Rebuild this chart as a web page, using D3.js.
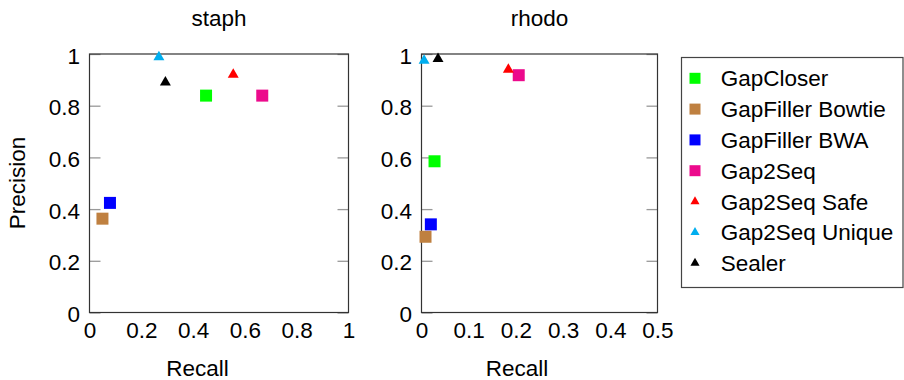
<!DOCTYPE html>
<html>
<head>
<meta charset="utf-8">
<script src="https://cdn.jsdelivr.net/npm/d3@7"></script>
<style>
  body { margin: 0; background: #fff; }
  svg text { font-family: "Liberation Sans", Arial, Helvetica, sans-serif; fill: #000; }
  .axis .domain { display: none; }
  .axis text { font-size: 22.5px; }
</style>
</head>
<body>
<div id="chart"></div>
<script>
// Methods, in legend order
var methods = ['GapCloser', 'GapFiller Bowtie', 'GapFiller BWA', 'Gap2Seq', 'Gap2Seq Safe', 'Gap2Seq Unique', 'Sealer'];
var markers = ['square', 'square', 'square', 'square', 'triangle', 'triangle', 'triangle'];
var colors = ['#00ff00', '#bf8040', '#0000ff', '#ec0a8c', '#ff0000', '#00aeef', '#000000'];

// staph: recall / precision per method
var staphRecall =    [0.45, 0.05, 0.079, 0.667, 0.555, 0.268, 0.293];
var staphPrecision = [0.839, 0.363, 0.424, 0.839, 0.92, 0.988, 0.89];

// rhodo: recall / precision per method
var rhodoRecall =    [0.0276, 0.0085, 0.0198, 0.206, 0.184, 0.0055, 0.035];
var rhodoPrecision = [0.585, 0.293, 0.341, 0.918, 0.94, 0.975, 0.981];

var yTicks = [0, 0.2, 0.4, 0.6, 0.8, 1];
var staphXTicks = [0, 0.2, 0.4, 0.6, 0.8, 1];
var rhodoXTicks = [0, 0.1, 0.2, 0.3, 0.4, 0.5];

const width = 904, height = 380;
const plotTop = 54, plotBottom = 312.5;
const fontSize = '22.5px';

var svg = d3.select('#chart').append('svg')
  .attr('width', width)
  .attr('height', height);

function symbolFor(m, big) {
  if (m == 'square') return d3.symbol().type(d3.symbolSquare).size(big ? 144 : 121)();
  return d3.symbol().type(d3.symbolTriangle).size(big ? 52 : 36)();
}

function createPlot(opts) {
  var xScale = d3.scaleLinear().domain([0, opts.xMax]).range([opts.left, opts.right]);
  var yScale = d3.scaleLinear().domain([0, 1]).range([plotBottom, plotTop]);

  var g = svg.append('g');

  // inner y ticks, left with labels
  g.append('g')
    .attr('class', 'axis')
    .attr('transform', `translate(${opts.left}, 0)`)
    .call(d3.axisLeft(yScale).tickValues(yTicks).tickSize(-11).tickPadding(9.5)
      .tickFormat(d3.format('~g')))
    .call(s => s.selectAll('line').attr('stroke', '#999').attr('stroke-width', 1.3))
    .call(s => s.selectAll('text').attr('dy', '0.4em'));

  // inner y ticks on the right side
  g.append('g')
    .attr('class', 'axis')
    .attr('transform', `translate(${opts.right}, 0)`)
    .call(d3.axisRight(yScale).tickValues(yTicks).tickSize(-11).tickFormat(''))
    .call(s => s.selectAll('line').attr('stroke', '#999').attr('stroke-width', 1.3));

  // x labels
  g.append('g')
    .attr('class', 'axis')
    .attr('transform', `translate(0, ${plotBottom})`)
    .call(d3.axisBottom(xScale).tickValues(opts.xTicks).tickSize(0).tickPadding(10)
      .tickFormat(d3.format('~g')));

  // frame
  g.append('rect')
    .attr('x', opts.left)
    .attr('y', plotTop)
    .attr('width', opts.right - opts.left)
    .attr('height', plotBottom - plotTop)
    .attr('fill', 'none')
    .attr('stroke', '#333')
    .attr('stroke-width', 1.2);

  // title
  g.append('text')
    .attr('x', (opts.left + opts.right) / 2)
    .attr('y', 26)
    .attr('text-anchor', 'middle')
    .style('font-size', fontSize)
    .text(opts.title);

  // x axis label
  g.append('text')
    .attr('x', opts.labelX)
    .attr('y', 376)
    .attr('text-anchor', 'middle')
    .style('font-size', fontSize)
    .text('Recall');

  // points
  var pts = methods.map((m, i) => [opts.recall[i], opts.precision[i], i]);
  g.selectAll('path.pt')
    .data(pts)
    .enter()
    .append('path')
    .attr('class', 'pt')
    .attr('transform', d => `translate(${xScale(d[0])}, ${yScale(d[1])})`)
    .attr('d', d => symbolFor(markers[d[2]], true))
    .attr('fill', d => colors[d[2]]);
}

createPlot({ title: 'staph', left: 89.5, right: 348.5, xMax: 1, xTicks: staphXTicks,
  recall: staphRecall, precision: staphPrecision, labelX: 197.5 });
createPlot({ title: 'rhodo', left: 421.5, right: 657.5, xMax: 0.5, xTicks: rhodoXTicks,
  recall: rhodoRecall, precision: rhodoPrecision, labelX: 517 });

// y label
svg.append('text')
  .attr('transform', 'translate(25, 183) rotate(-90)')
  .attr('text-anchor', 'middle')
  .style('font-size', fontSize)
  .text('Precision');

// Legend
var legend = svg.append('g');
legend.append('rect')
  .attr('x', 681.5)
  .attr('y', 57.5)
  .attr('width', 221.5)
  .attr('height', 230)
  .attr('fill', '#fff')
  .attr('stroke', '#444')
  .attr('stroke-width', 1.2);

var rows = legend.selectAll('g.row')
  .data(methods)
  .enter()
  .append('g')
  .attr('class', 'row')
  .attr('transform', (d, i) => `translate(695, ${78.3 + i * 30.8})`);

rows.append('path')
  .attr('d', (d, i) => symbolFor(markers[i], false))
  .attr('fill', (d, i) => colors[i]);

rows.append('text')
  .attr('x', 25.7)
  .attr('dy', '0.36em')
  .style('font-size', fontSize)
  .text(d => d);
</script>
</body>
</html>
